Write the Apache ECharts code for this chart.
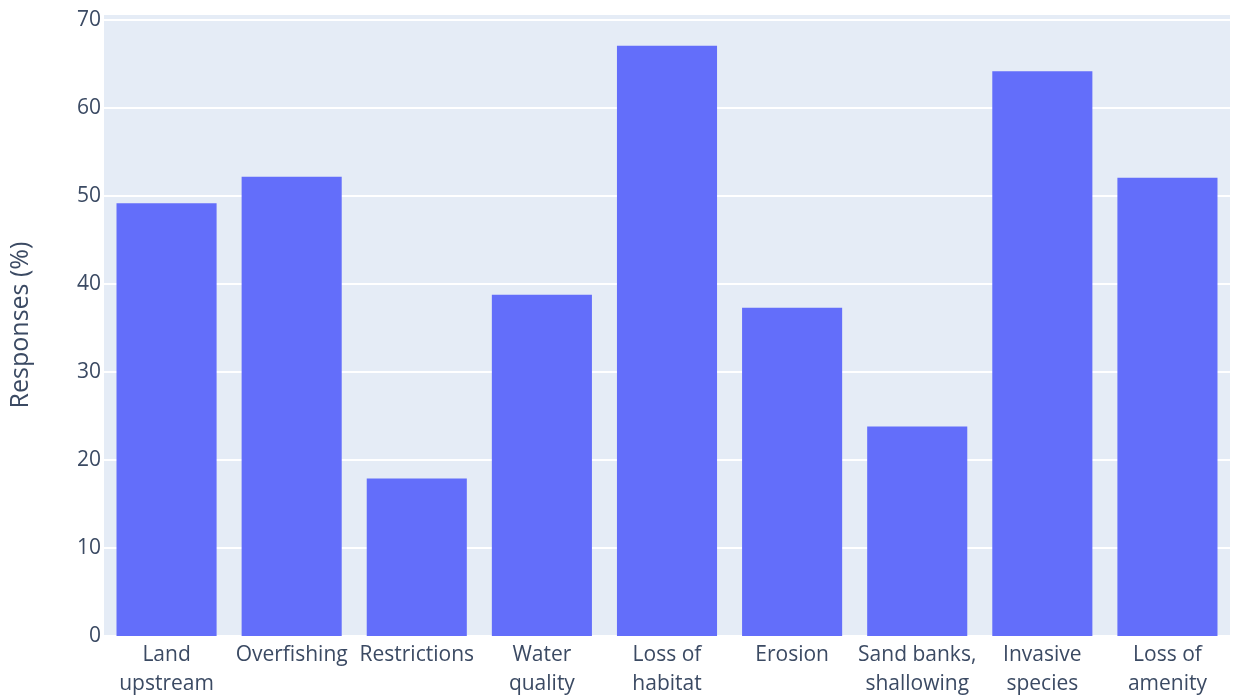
<!DOCTYPE html>
<html>
<head>
<meta charset="utf-8">
<script src="https://cdn.jsdelivr.net/npm/echarts@6/dist/echarts.min.js"></script>
<style>html,body{margin:0;padding:0;background:#fff;}#c{width:1233px;height:696px;}</style>
</head>
<body>
<div id="c"></div>
<script>
const categories = ["Land\nupstream", "Overfishing", "Restrictions", "Water\nquality", "Loss of\nhabitat", "Erosion", "Sand banks,\nshallowing", "Invasive\nspecies", "Loss of\namenity"];
const values = [49.2, 52.2, 17.9, 38.8, 67.1, 37.3, 23.8, 64.2, 52.1];
const yTitle = "Responses (%)";

const textColor = '#3b4a63';
const chart = echarts.init(document.getElementById('c'));
chart.setOption({
  animation: false,
  textStyle: { fontFamily: 'Open Sans' },
  grid: { left: 104, right: 3, top: 14, bottom: 60, show: true, backgroundColor: '#e5ecf6', borderWidth: 0, containLabel: false, outerBoundsMode: 'none' },
  xAxis: {
    type: 'category',
    data: categories,
    axisLine: { show: false },
    axisTick: { show: false },
    axisLabel: { color: textColor, fontSize: 21, fontFamily: 'Open Sans', lineHeight: 29, margin: 5, interval: 0 }
  },
  yAxis: {
    type: 'value',
    min: 0, max: 70.7, interval: 10,
    name: yTitle,
    nameLocation: 'middle',
    nameGap: 71,
    nameTextStyle: { color: textColor, fontSize: 25, fontFamily: 'Open Sans' },
    axisLine: { show: false },
    axisTick: { show: false },
    axisLabel: { color: textColor, fontSize: 21, fontFamily: 'Open Sans', margin: 3, showMaxLabel: false },
    splitLine: { lineStyle: { color: '#ffffff', width: 2 } }
  },
  series: [{
    type: 'bar',
    data: values,
    barCategoryGap: '20%',
    itemStyle: { color: '#636efa' }
  }]
});
</script>
</body>
</html>
